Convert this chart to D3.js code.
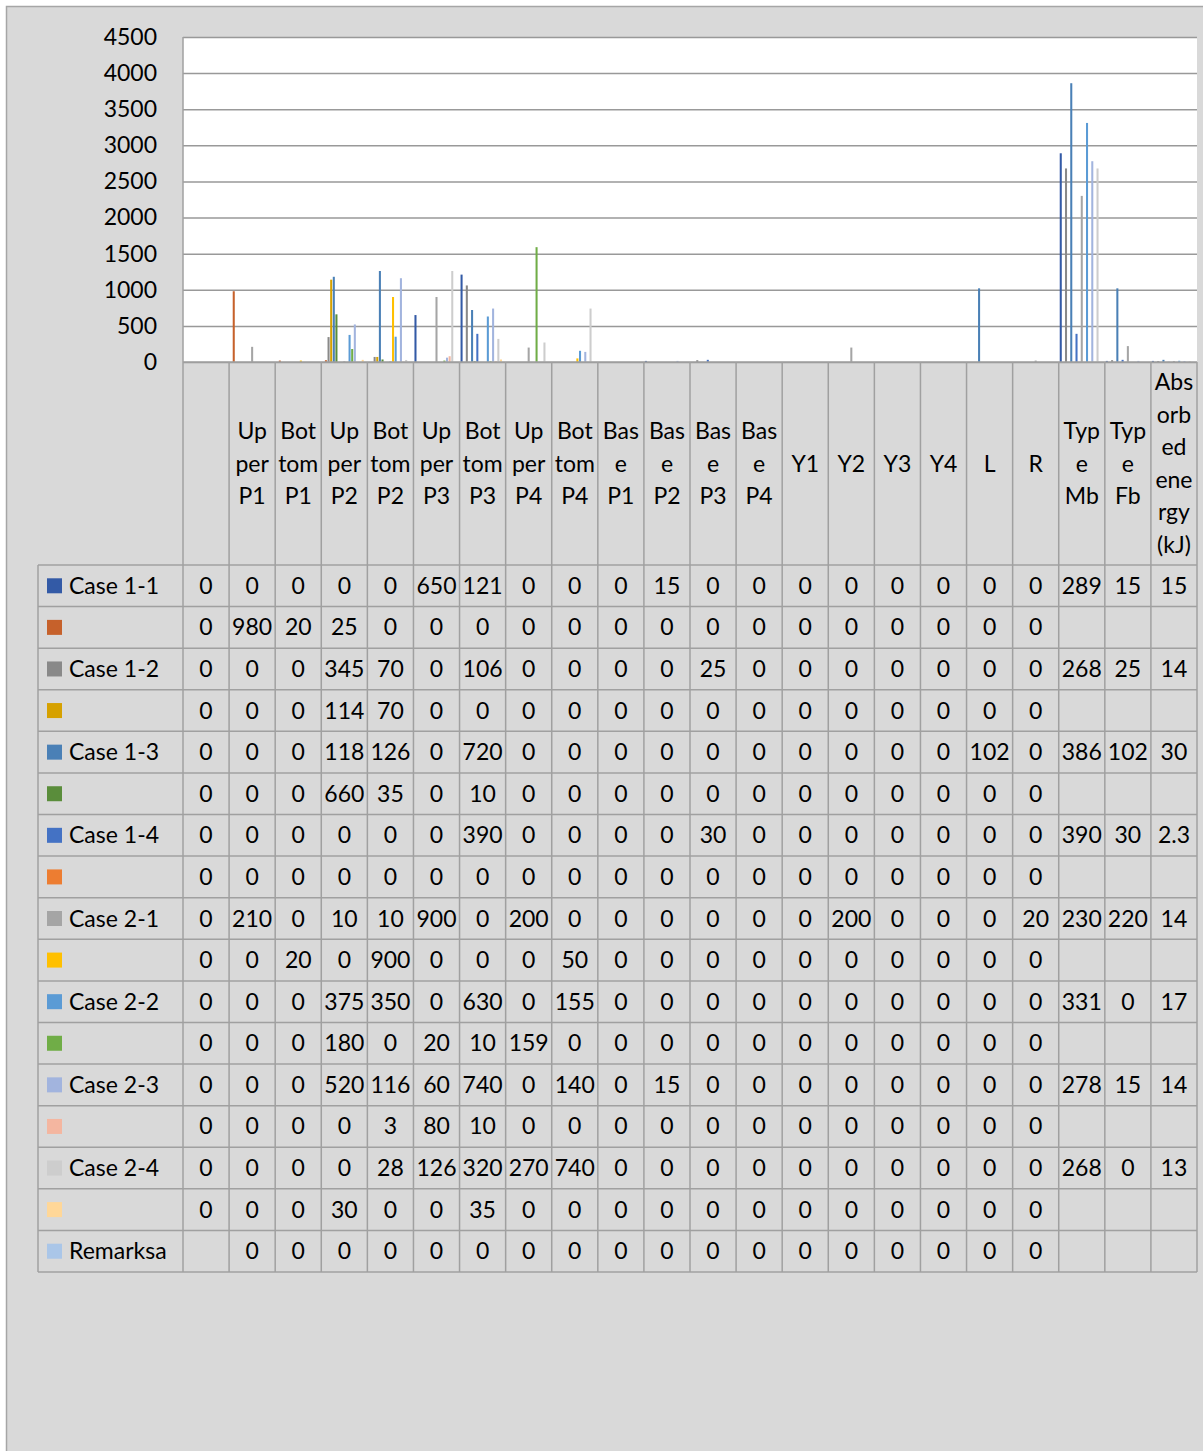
<!DOCTYPE html>
<html>
<head>
<meta charset="utf-8">
<script src="https://cdn.jsdelivr.net/npm/d3@7"></script>
<style>
    body { margin: 0; background: #fff; }
    svg { display: block; }
    text { font-family: Lato, "Open Sans", sans-serif; fill: #000; }
</style>
</head>
<body>
<svg width="1203" height="1451"></svg>
<script>
// categories (first one is empty in the source sheet)
var categories = ["", "Upper P1", "Bottom P1", "Upper P2", "Bottom P2", "Upper P3", "Bottom P3",
    "Upper P4", "Bottom P4", "Base P1", "Base P2", "Base P3", "Base P4", "Y1", "Y2", "Y3", "Y4",
    "L", "R", "Type Mb", "Type Fb", "Absorbed energy (kJ)"];
// how Excel wrapped the category labels inside the narrow table cells
var categoryLines = [[], ["Up", "per", "P1"], ["Bot", "tom", "P1"], ["Up", "per", "P2"], ["Bot", "tom", "P2"],
    ["Up", "per", "P3"], ["Bot", "tom", "P3"], ["Up", "per", "P4"], ["Bot", "tom", "P4"],
    ["Bas", "e", "P1"], ["Bas", "e", "P2"], ["Bas", "e", "P3"], ["Bas", "e", "P4"],
    ["Y1"], ["Y2"], ["Y3"], ["Y4"], ["L"], ["R"], ["Typ", "e", "Mb"], ["Typ", "e", "Fb"],
    ["Abs", "orb", "ed", "ene", "rgy", "(kJ)"]];

var seriesNames = ["Case 1-1", "", "Case 1-2", "", "Case 1-3", "", "Case 1-4", "",
    "Case 2-1", "", "Case 2-2", "", "Case 2-3", "", "Case 2-4", "", "Remarksa"];
var seriesColors = ["#335aa6", "#c6612b", "#898989", "#d6a100", "#4a80b6", "#5a8d3b", "#4472c4", "#ed7d31",
    "#a5a5a5", "#ffc000", "#5b9bd5", "#70ad47", "#a2b4de", "#f4b6a0", "#cdcdcd", "#ffd798", "#aac6e8"];

var yTicks = [0, 500, 1000, 1500, 2000, 2500, 3000, 3500, 4000, 4500];

// series values, one per table row (null = empty cell)
var case11  = [0, 0, 0, 0, 0, 650, 1210, 0, 0, 0, 15, 0, 0, 0, 0, 0, 0, 0, 0, 2890, 15, 15];
var case11b = [0, 980, 20, 25, 0, 0, 0, 0, 0, 0, 0, 0, 0, 0, 0, 0, 0, 0, 0, null, null, null];
var case12  = [0, 0, 0, 345, 70, 0, 1060, 0, 0, 0, 0, 25, 0, 0, 0, 0, 0, 0, 0, 2680, 25, 14];
var case12b = [0, 0, 0, 1140, 70, 0, 0, 0, 0, 0, 0, 0, 0, 0, 0, 0, 0, 0, 0, null, null, null];
var case13  = [0, 0, 0, 1180, 1260, 0, 720, 0, 0, 0, 0, 0, 0, 0, 0, 0, 0, 1020, 0, 3860, 1020, 30];
var case13b = [0, 0, 0, 660, 35, 0, 10, 0, 0, 0, 0, 0, 0, 0, 0, 0, 0, 0, 0, null, null, null];
var case14  = [0, 0, 0, 0, 0, 0, 390, 0, 0, 0, 0, 30, 0, 0, 0, 0, 0, 0, 0, 390, 30, 2.3];
var case14b = [0, 0, 0, 0, 0, 0, 0, 0, 0, 0, 0, 0, 0, 0, 0, 0, 0, 0, 0, null, null, null];
var case21  = [0, 210, 0, 10, 10, 900, 0, 200, 0, 0, 0, 0, 0, 0, 200, 0, 0, 0, 20, 2300, 220, 14];
var case21b = [0, 0, 20, 0, 900, 0, 0, 0, 50, 0, 0, 0, 0, 0, 0, 0, 0, 0, 0, null, null, null];
var case22  = [0, 0, 0, 375, 350, 0, 630, 0, 155, 0, 0, 0, 0, 0, 0, 0, 0, 0, 0, 3310, 0, 17];
var case22b = [0, 0, 0, 180, 0, 20, 10, 1590, 0, 0, 0, 0, 0, 0, 0, 0, 0, 0, 0, null, null, null];
var case23  = [0, 0, 0, 520, 1160, 60, 740, 0, 140, 0, 15, 0, 0, 0, 0, 0, 0, 0, 0, 2780, 15, 14];
var case23b = [0, 0, 0, 0, 3, 80, 10, 0, 0, 0, 0, 0, 0, 0, 0, 0, 0, 0, 0, null, null, null];
var case24  = [0, 0, 0, 0, 28, 1260, 320, 270, 740, 0, 0, 0, 0, 0, 0, 0, 0, 0, 0, 2680, 0, 13];
var case24b = [0, 0, 0, 30, 0, 0, 35, 0, 0, 0, 0, 0, 0, 0, 0, 0, 0, 0, 0, null, null, null];
var remarks = [null, 0, 0, 0, 0, 0, 0, 0, 0, 0, 0, 0, 0, 0, 0, 0, 0, 0, 0, null, null, null];

var values = [case11, case11b, case12, case12b, case13, case13b, case14, case14b,
    case21, case21b, case22, case22b, case23, case23b, case24, case24b, remarks];

var svg = d3.select("svg");

var plotLeft = 183, plotRight = 1197, plotTop = 37, plotBottom = 362,
    headerBottom = 565, tableBottom = 1272, legendLeft = 38,
    gridColor = "#a0a0a0", fontSize = 23;
var rowH = (tableBottom - headerBottom) / seriesNames.length;

// chart background + frame
svg.append("rect")
    .attr("x", 6.5).attr("y", 6.5)
    .attr("width", 1300).attr("height", 1500)
    .attr("fill", "#d9d9d9")
    .attr("stroke", "#a6a6a6")
    .attr("stroke-width", 1.5);

svg.append("rect")
    .attr("x", plotLeft).attr("y", plotTop)
    .attr("width", plotRight - plotLeft).attr("height", plotBottom - plotTop)
    .attr("fill", "#fff");

var x0 = d3.scaleBand()
    .domain(categories)
    .range([plotLeft, plotRight]);

var x1 = d3.scaleBand()
    .domain(d3.range(seriesNames.length))
    .range([1, x0.bandwidth() - 1])
    .paddingInner(0.22);

var y = d3.scaleLinear()
    .domain([0, 4500])
    .range([plotBottom, plotTop]);

// gridlines
svg.append("g")
    .attr("class", "grid")
    .attr("transform", "translate(" + plotLeft + ",0)")
    .call(d3.axisLeft(y).tickValues(yTicks).tickSize(-(plotRight - plotLeft)).tickFormat(""))
    .call(function (g) { g.select(".domain").remove(); })
    .selectAll("line")
    .attr("stroke", "#999")
    .attr("stroke-width", 1.5);

// y tick labels
var yAxis = svg.append("g")
    .attr("transform", "translate(" + plotLeft + ",0)")
    .call(d3.axisLeft(y).tickValues(yTicks).tickSize(0).tickPadding(26).tickFormat(d3.format("d")));
yAxis.select(".domain").remove();
yAxis.selectAll("text")
    .style("font-family", "Lato, 'Open Sans', sans-serif")
    .style("font-size", fontSize + "px")
    .attr("fill", "#000");

// bars
var cat = svg.append("g")
    .attr("class", "bars")
    .selectAll("g")
    .data(categories)
    .enter().append("g")
    .attr("transform", function (d) { return "translate(" + x0(d) + ",0)"; });

cat.selectAll("rect")
    .data(function (d, i) {
        return values.map(function (row, s) { return {s: s, v: row[i]}; })
            .filter(function (e) { return e.v != null && e.v > 0; });
    })
    .enter().append("rect")
    .attr("x", function (d) { return x1(d.s); })
    .attr("width", x1.bandwidth())
    .attr("y", function (d) { return y(d.v); })
    .attr("height", function (d) { return y(0) - y(d.v); })
    .attr("fill", function (d) { return seriesColors[d.s]; });

// data table grid
var grid = svg.append("g").attr("class", "table-grid")
    .attr("stroke", gridColor).attr("stroke-width", 1.5);

// left axis line of the plot
grid.append("line")
    .attr("x1", plotLeft).attr("x2", plotLeft)
    .attr("y1", plotTop).attr("y2", plotBottom);

grid.append("line")
    .attr("x1", plotLeft).attr("x2", plotRight)
    .attr("y1", plotBottom).attr("y2", plotBottom);

categories.forEach(function (c) {
    grid.append("line")
        .attr("x1", x0(c)).attr("x2", x0(c))
        .attr("y1", plotBottom).attr("y2", tableBottom);
});
grid.append("line")
    .attr("x1", plotRight).attr("x2", plotRight)
    .attr("y1", plotBottom).attr("y2", tableBottom);
grid.append("line")
    .attr("x1", legendLeft).attr("x2", legendLeft)
    .attr("y1", headerBottom).attr("y2", tableBottom);

d3.range(seriesNames.length + 1).forEach(function (r) {
    grid.append("line")
        .attr("x1", legendLeft).attr("x2", plotRight)
        .attr("y1", headerBottom + r * rowH).attr("y2", headerBottom + r * rowH);
});

// header labels
var lineH = 32.5;
var headMid = (plotBottom + headerBottom) / 2;
var header = svg.append("g").attr("class", "header")
    .style("font-size", fontSize + "px")
    .attr("text-anchor", "middle");

categories.forEach(function (c, i) {
    var lines = categoryLines[i];
    var t = header.append("text")
        .attr("x", x0(c) + x0.bandwidth() / 2)
        .attr("y", headMid - (lines.length - 1) * lineH / 2);
    lines.forEach(function (l, k) {
        t.append("tspan")
            .attr("x", x0(c) + x0.bandwidth() / 2)
            .attr("dy", k === 0 ? "0.35em" : lineH)
            .text(l);
    });
});

// legend column
var legend = svg.append("g").attr("class", "legend")
    .style("font-size", fontSize + "px");

seriesNames.forEach(function (name, s) {
    var cy = headerBottom + s * rowH + rowH / 2;
    legend.append("rect")
        .attr("x", 47).attr("y", cy - 7.5)
        .attr("width", 15).attr("height", 15)
        .attr("fill", seriesColors[s]);
    legend.append("text")
        .attr("x", 69).attr("y", cy)
        .attr("dy", "0.35em")
        .text(name);
});

// table values, truncated like Excel when the cell is too narrow
var cells = svg.append("g").attr("class", "cells")
    .style("font-size", fontSize + "px")
    .attr("text-anchor", "middle");

values.forEach(function (row, s) {
    var cy = headerBottom + s * rowH + rowH / 2;
    row.forEach(function (v, i) {
        if (v == null) return;
        var str = String(v);
        var t = cells.append("text")
            .attr("x", x0(categories[i]) + x0.bandwidth() / 2)
            .attr("y", cy)
            .attr("dy", "0.35em")
            .text(str);
        while (t.node().getComputedTextLength() > x0.bandwidth() - 3 && str.length > 1) {
            str = str.slice(0, -1);
            t.text(str);
        }
    });
});
</script>
</body>
</html>
